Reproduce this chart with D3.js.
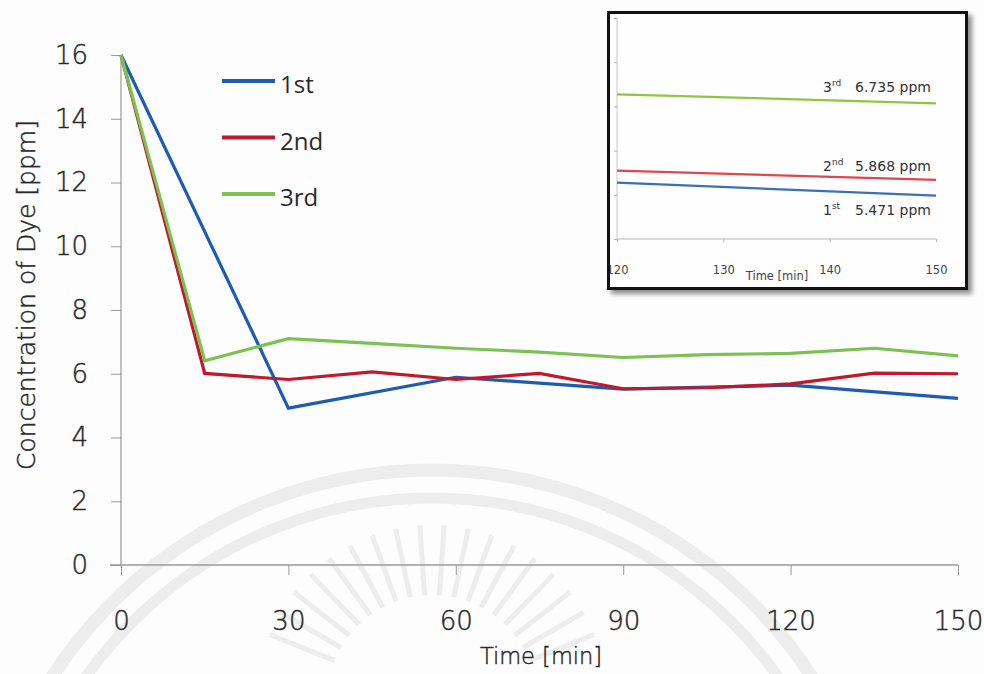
<!DOCTYPE html>
<html>
<head>
<meta charset="utf-8">
<script src="https://cdn.jsdelivr.net/npm/d3@7"></script>
<style>
  html, body { margin: 0; padding: 0; background: #fdfdfd; }
  svg { display: block; }
</style>
</head>
<body>
<svg id="chart" width="984" height="674"></svg>
<script>
// Sampling times (min) for each run
const timesRun1 = [0, 30, 60, 90, 120, 150];
const timesRun23 = [0, 15, 30, 45, 60, 75, 90, 105, 120, 135, 150];

// Dye concentration (ppm) per run
const run1 = [16, 4.92, 5.89, 5.52, 5.64, 5.23];
const run2 = [16, 6.01, 5.82, 6.06, 5.82, 6.01, 5.53, 5.56, 5.68, 6.02, 6.0];
const run3 = [16, 6.41, 7.1, 6.95, 6.8, 6.68, 6.51, 6.6, 6.64, 6.8, 6.56];

const seriesNames = ["1st", "2nd", "3rd"];
const seriesColors = ["#1d5cb0", "#c0182c", "#7cc252"];

const xTicks = [0, 30, 60, 90, 120, 150];
const yTicks = [0, 2, 4, 6, 8, 10, 12, 14, 16];

// Close-up of the last 30 minutes
const insetTimes = [120, 150];
const insetRun1 = [5.837, 5.69];
const insetRun2 = [5.973, 5.868];
const insetRun3 = [6.837, 6.735];
const insetXTicks = [120, 130, 140, 150];
const insetYTicks = [5.2, 5.7, 6.2, 6.7, 7.2, 7.7];
const insetNotes = [
  { ord: "3", sup: "rd", text: "6.735 ppm" },
  { ord: "2", sup: "nd", text: "5.868 ppm" },
  { ord: "1", sup: "st", text: "5.471 ppm" }
];
const insetNoteY = [92, 171, 215];

const svg = d3.select("#chart");
const font = "'DejaVu Sans', Verdana, sans-serif";
const legendFont = "'Open Sans', 'Noto Sans', sans-serif";
const textColor = "#2a2a2a";

// thin-weight text helper
function thin(sel, size) {
  return sel.attr("font-family", font).attr("font-weight", 200).attr("font-size", size)
    .attr("fill", textColor).attr("stroke", textColor).attr("stroke-width", 0.45);
}

// faint seal in the background
const wm = svg.append("g").attr("fill", "none").attr("stroke", "#ededed");
wm.append("circle").attr("cx", 432).attr("cy", 922).attr("r", 452).attr("stroke-width", 13);
wm.append("circle").attr("cx", 432).attr("cy", 922).attr("r", 424).attr("stroke-width", 11);
const rays = d3.range(-158, -20, 8);
wm.selectAll("line.ray").data(rays).join("line")
  .attr("x1", a => 432 + 105 * Math.cos(a * Math.PI / 180))
  .attr("y1", a => 700 + 105 * Math.sin(a * Math.PI / 180))
  .attr("x2", a => 432 + 175 * Math.cos(a * Math.PI / 180))
  .attr("y2", a => 700 + 175 * Math.sin(a * Math.PI / 180))
  .attr("stroke-width", 5);

// main chart scales
const x = d3.scaleLinear().domain([0, 150]).range([121, 958]);
const y = d3.scaleLinear().domain([0, 16]).range([565, 55]);

const axisColor = "#9a9a9a";

const gx = svg.append("g").attr("transform", `translate(0,${y(0)})`)
  .call(d3.axisBottom(x).tickValues(xTicks).tickSize(10).tickPadding(37).tickFormat(d3.format("d")));
gx.select(".domain").attr("stroke", axisColor).attr("stroke-width", 1.5).attr("d", `M110,0H${x(150)}`);
gx.selectAll(".tick line").attr("stroke", axisColor);
thin(gx.selectAll(".tick text"), 26);

const gy = svg.append("g").attr("transform", `translate(${x(0)},0)`)
  .call(d3.axisLeft(y).tickValues(yTicks).tickSize(10).tickPadding(23));
gy.select(".domain").attr("stroke", axisColor).attr("stroke-width", 1.2).attr("d", `M0,${y(16)}V${y(0)}`);
gy.selectAll(".tick line").attr("stroke", axisColor);
thin(gy.selectAll(".tick text"), 26);

thin(svg.append("text").attr("x", 541).attr("y", 664).attr("text-anchor", "middle"), 22.5)
  .text("Time [min]");
thin(svg.append("text").attr("transform", "translate(35,295) rotate(-90)").attr("text-anchor", "middle"), 25)
  .text("Concentration of Dye [ppm]");

// data lines
const series = [
  { t: timesRun1, v: run1 },
  { t: timesRun23, v: run2 },
  { t: timesRun23, v: run3 }
];
const line = d3.line().x(d => x(d[0])).y(d => y(d[1]));
series.forEach((s, i) => {
  svg.append("path")
    .datum(s.t.map((t, k) => [t, s.v[k]]))
    .attr("fill", "none").attr("stroke", seriesColors[i])
    .attr("stroke-width", 3.2).attr("stroke-linejoin", "miter")
    .attr("d", line);
});

// legend
const lg = svg.append("g");
seriesNames.forEach((n, i) => {
  const ly = 81 + i * 56.5;
  lg.append("line").attr("x1", 222).attr("x2", 275).attr("y1", ly).attr("y2", ly)
    .attr("stroke", seriesColors[i]).attr("stroke-width", 4);
  lg.append("text").attr("x", 280).attr("y", ly + 12).attr("font-family", legendFont)
    .attr("font-size", 24).attr("fill", textColor).text(n);
});

// inset panel
const defs = svg.append("defs");
const f = defs.append("filter").attr("id", "shadow").attr("x", "-10%").attr("y", "-10%")
  .attr("width", "130%").attr("height", "130%");
f.append("feDropShadow").attr("dx", 4).attr("dy", 4).attr("stdDeviation", 2.5)
  .attr("flood-color", "#000").attr("flood-opacity", 0.45);
defs.append("clipPath").attr("id", "insetClip").append("rect")
  .attr("x", 608).attr("y", 12).attr("width", 359).attr("height", 277);

svg.append("rect").attr("x", 607).attr("y", 11).attr("width", 361).attr("height", 279)
  .attr("fill", "#fefefe").attr("filter", "url(#shadow)");

const ins = svg.append("g").attr("clip-path", "url(#insetClip)");
const ix = d3.scaleLinear().domain([120, 150]).range([617, 936]);
const iy = d3.scaleLinear().domain([5.2, 7.7]).range([239, 18]);

const igx = ins.append("g").attr("transform", `translate(0,${iy(5.2)})`)
  .call(d3.axisBottom(ix).tickValues(insetXTicks).tickSize(3).tickPadding(24).tickFormat(d3.format("d")));
igx.select(".domain").attr("stroke", "#b5b5b5").attr("d", `M${ix(120)},0H${ix(150)}`);
igx.selectAll(".tick line").attr("stroke", "#b5b5b5");
igx.selectAll(".tick text").attr("font-family", font).attr("font-size", 11.5).attr("fill", "#444");

const igy = ins.append("g").attr("transform", `translate(${ix(120)},0)`)
  .call(d3.axisLeft(iy).tickValues(insetYTicks).tickSize(3).tickFormat(""));
igy.select(".domain").attr("stroke", "#c8c8c8").attr("d", `M0,${iy(7.7)}V${iy(5.2)}`);
igy.selectAll(".tick line").attr("stroke", "#b5b5b5");

ins.append("text").attr("x", 777).attr("y", 280).attr("text-anchor", "middle")
  .attr("font-family", font).attr("font-size", 11.5).attr("fill", "#444").text("Time [min]");

const insetSeries = [insetRun1, insetRun2, insetRun3];
const insetColors = ["#3a6fb9", "#e0464e", "#8dc63f"];
const iline = d3.line().x(d => ix(d[0])).y(d => iy(d[1]));
insetSeries.forEach((v, i) => {
  ins.append("path").datum(insetTimes.map((t, k) => [t, v[k]]))
    .attr("fill", "none").attr("stroke", insetColors[i]).attr("stroke-width", 2.2)
    .attr("d", iline);
});

insetNotes.forEach((n, i) => {
  const t = ins.append("text").attr("x", 823).attr("y", insetNoteY[i])
    .attr("font-family", font).attr("font-size", 14).attr("fill", "#333");
  t.append("tspan").text(n.ord);
  t.append("tspan").attr("font-size", 9).attr("dy", -6).text(n.sup);
  t.append("tspan").attr("x", 855).attr("dy", 6).text(n.text);
});

// frame
svg.append("rect").attr("x", 608.5).attr("y", 12.5).attr("width", 358).attr("height", 276)
  .attr("fill", "none").attr("stroke", "#111").attr("stroke-width", 3);
</script>
</body>
</html>
